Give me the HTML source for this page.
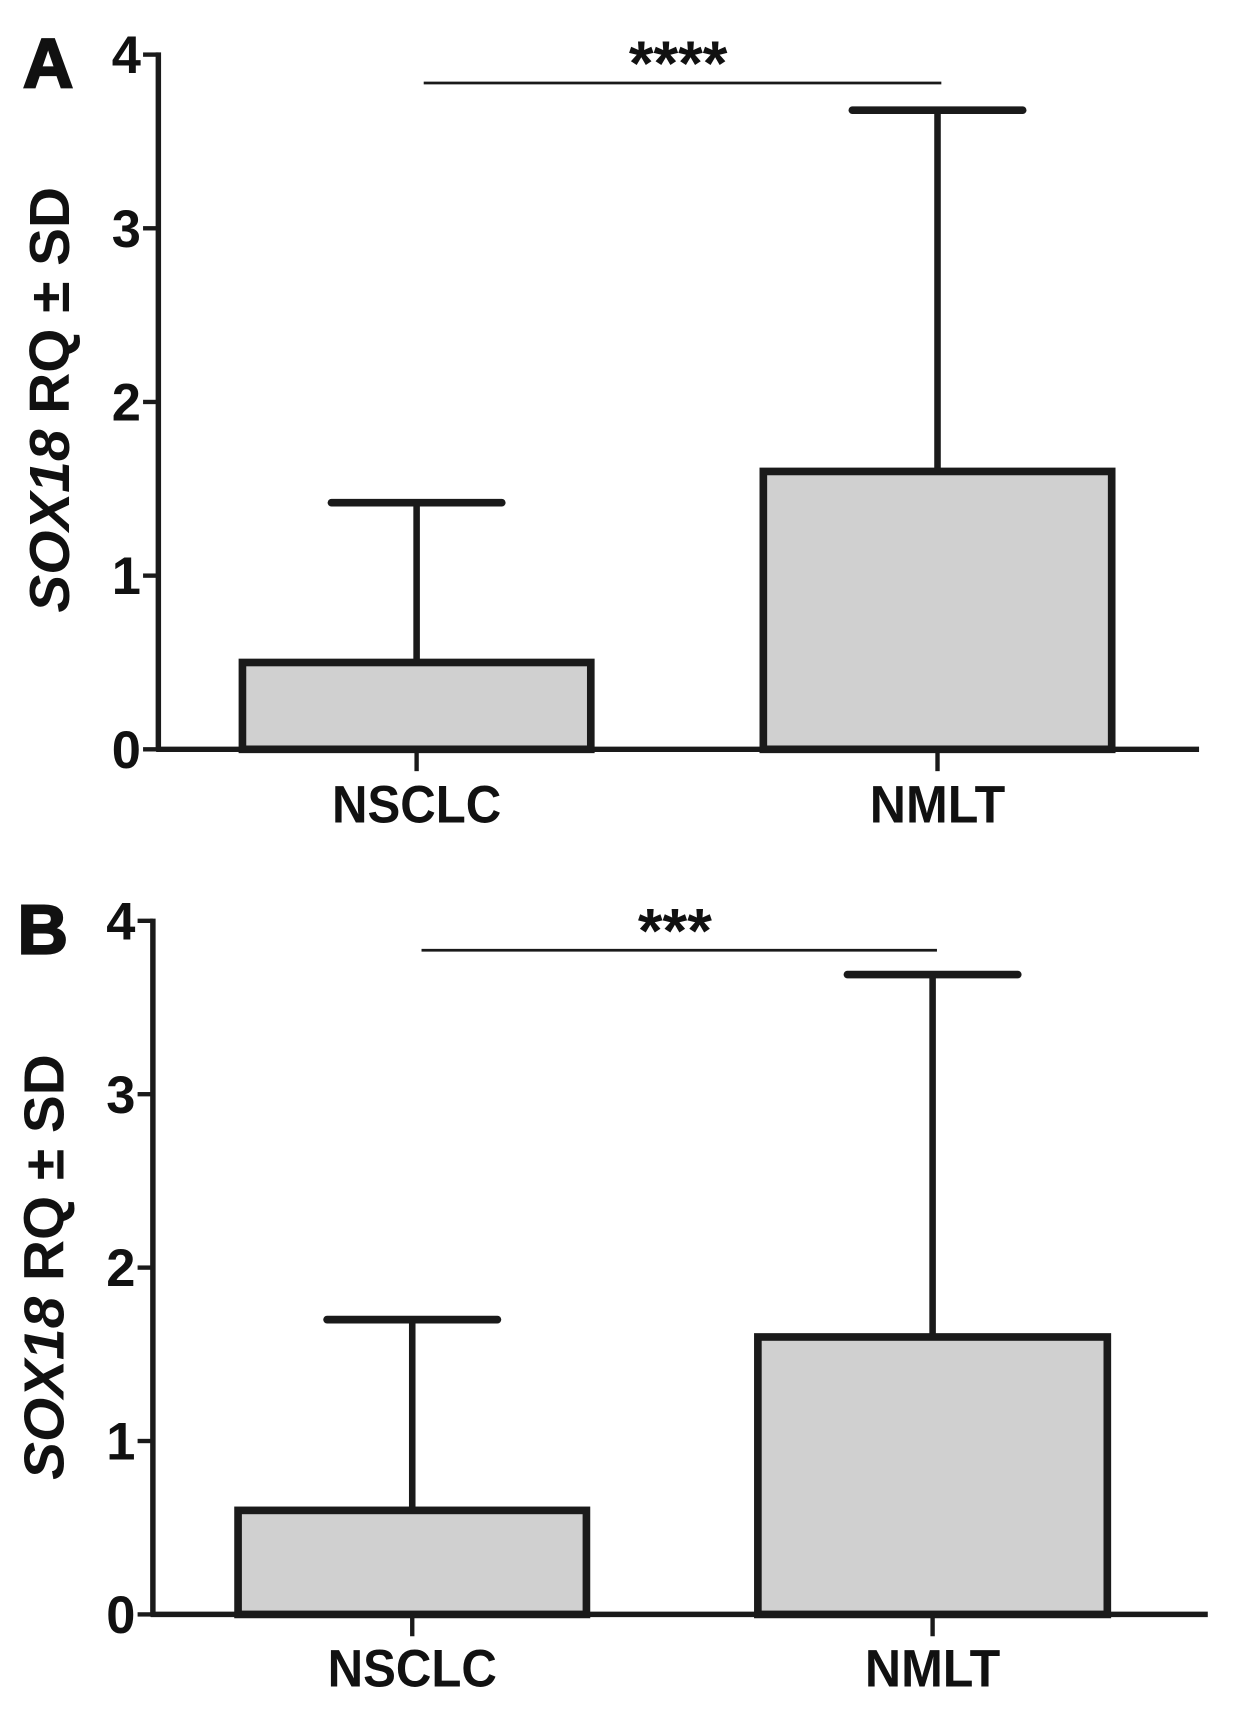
<!DOCTYPE html>
<html><head><meta charset="utf-8"><style>
html,body{margin:0;padding:0;background:#fff;}
svg{display:block;}
text{font-family:"Liberation Sans",Arial,sans-serif;font-weight:bold;fill:#111;}
</style></head><body>
<svg id="chart" width="1234" height="1716" viewBox="0 0 1130 1571" preserveAspectRatio="none" xmlns="http://www.w3.org/2000/svg"></svg>
<script>
const categories = ["NSCLC", "NMLT"];
const panelLabels = ["A", "B"];
const meansA = [0.50, 1.60];
const sdA = [0.92, 2.08];
const meansB = [0.60, 1.60];
const sdB = [1.10, 2.09];
const yTicks = [0, 1, 2, 3, 4];
const sigLabels = ["****", "***"];

const svg = document.getElementById('chart');
const NS = "http://www.w3.org/2000/svg";
function el(tag, attrs, parent) {
  const e = document.createElementNS(NS, tag);
  for (const k in attrs) e.setAttribute(k, attrs[k]);
  (parent || svg).appendChild(e);
  return e;
}
const panels = [
  {ax: 145, y0: 686, y4: 50, xEnd: 1098, bars: [[222,541],[699,1018]], means: meansA, sds: sdA, sigY: 76, sigX: [388, 862], starY: 78, titleY: 366, xlabY: 753},
  {ax: 140, y0: 1478, y4: 843, xEnd: 1106, bars: [[218,537],[694,1014]], means: meansB, sds: sdB, sigY: 870, sigX: [386, 858], starY: 872, titleY: 1160, xlabY: 1544}
];
panels.forEach((p, i) => {
  const g = el('g', {});
  
  
  const y = v => p.y0 - (p.y0 - p.y4) * v / 4;
  const pl = el('text', {x: p.ax - 124, y: p.y4 + 30, 'font-size': 64, stroke: '#111', 'stroke-width': 2}, g);
  pl.textContent = panelLabels[i];
  
  
  const yt = el('text', {x: 0, y: 0, 'font-size': 52, 'text-anchor': 'middle', transform: `translate(${p.ax - 82},${p.titleY}) rotate(-90)`}, g);
  yt.innerHTML = '<tspan font-style="italic">SOX18</tspan> RQ ± SD';
  
  
  const ya = el('line', {x1: p.ax, y1: y(4) - 2, x2: p.ax, y2: p.y0 + 2, stroke: '#1a1a1a', 'stroke-width': 5}, g);
  
  
  yTicks.forEach(t => {
    const tk = el('line', {x1: p.ax - 14, y1: y(t), x2: p.ax, y2: y(t), stroke: '#1a1a1a', 'stroke-width': 4}, g);
    
    
    const tl = el('text', {x: p.ax - 16, y: y(t) + 17, 'font-size': 48, 'text-anchor': 'end'}, g);
    tl.textContent = t;
    
    
  });
  categories.forEach((c, j) => {
    const [x1, x2] = p.bars[j];
    const cx = (x1 + x2) / 2;
    const top = y(p.means[j]);
    const eb = el('line', {x1: cx, y1: y(p.means[j] + p.sds[j]), x2: cx, y2: top, stroke: '#1a1a1a', 'stroke-width': 6}, g);
    
    
    const cap = el('line', {x1: cx - 78, y1: y(p.means[j] + p.sds[j]), x2: cx + 78, y2: y(p.means[j] + p.sds[j]), stroke: '#1a1a1a', 'stroke-width': 7, 'stroke-linecap': 'round'}, g);
    
    
    const r = el('rect', {x: x1, y: top, width: x2 - x1, height: p.y0 - top, fill: '#d0d0d0', stroke: '#1a1a1a', 'stroke-width': 7}, g);
    
    
    const xt = el('line', {x1: cx, y1: p.y0, x2: cx, y2: p.y0 + 20, stroke: '#1a1a1a', 'stroke-width': 4}, g);
    
    
    const xl = el('text', {x: cx, y: p.xlabY, 'font-size': 48, 'text-anchor': 'middle', textLength: c.length * 31, lengthAdjust: 'spacingAndGlyphs'}, g);
    xl.textContent = c;
    
    
  });
  const xa = el('line', {x1: p.ax - 2, y1: p.y0, x2: p.xEnd, y2: p.y0, stroke: '#1a1a1a', 'stroke-width': 5}, g);
  
  
  const sl = el('line', {x1: p.sigX[0], y1: p.sigY, x2: p.sigX[1], y2: p.sigY, stroke: '#1a1a1a', 'stroke-width': 2.5}, g);
  
  
  const st = el('text', {x: (p.sigX[0] + p.sigX[1]) / 2 - 4, y: p.starY, 'font-size': 58, 'text-anchor': 'middle'}, g);
  st.textContent = sigLabels[i];
  
  
});
</script>
</body></html>
